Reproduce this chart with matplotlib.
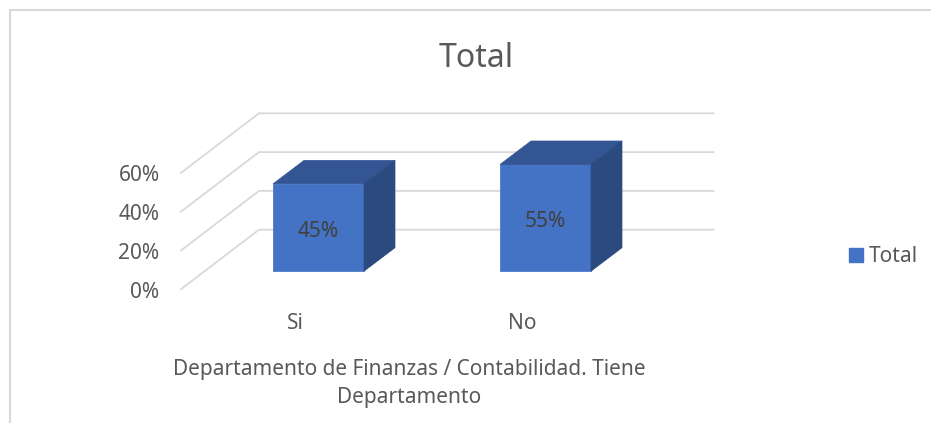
import matplotlib
matplotlib.use('Agg')
import matplotlib.pyplot as plt
from matplotlib.patches import Polygon, Rectangle

plt.rcParams['font.family'] = ['Noto Sans', 'DejaVu Sans']

categories = ['Si', 'No']
values = [45, 55]
value_labels = ['45%', '55%']
y_ticks = [0, 20, 40, 60]
y_tick_labels = ['0%', '20%', '40%', '60%']
title = 'Total'
series_name = 'Total'
x_title = ['Departamento de Finanzas / Contabilidad. Tiene', 'Departamento']

W, H = 931, 423
PX_X = 227.0    # pixels per category
PX_Y = 1.94     # pixels per percent
X0 = 318.5      # pixel of first bar centre
Y0 = 271.2      # pixel of 0% on the bar front

TEXT = '#595959'
GRID = '#D9D9D9'
FRONT = '#4472C4'
TOP = '#335593'
SIDE = '#2A4A80'
FS = 15


def dx(px):
    return px / PX_X


def dy(px):
    return px / PX_Y


fig = plt.figure(figsize=(W / 100, H / 100), dpi=100)
ax = fig.add_axes([0, 0, 1, 1])
# data coordinates: x = category index, y = percent on the bar front plane
ax.set_xlim(-X0 / PX_X, (W - X0) / PX_X)
ax.set_ylim(-(H - Y0) / PX_Y, Y0 / PX_Y)
ax.axis('off')

# chart frame, open at right and bottom
ax.plot([dx(9.5 - X0), dx(9.5 - X0), dx(W - X0)],
        [dy(Y0 - H), dy(Y0 - 10), dy(Y0 - 10)], color=GRID, lw=1.5, zorder=1)

# floor lines and back wall gridlines
wall_left = dx(181 - X0)
wall_back = dx(259 - X0)
wall_right = dx(713.5 - X0)
wall_front_off = dy(-18)
wall_back_off = dy(41.5)
for v in y_ticks:
    ax.plot([wall_left, wall_back, wall_right],
            [v + wall_front_off, v + wall_back_off, v + wall_back_off],
            color=GRID, lw=1.3, zorder=1)
    ax.text(dx(159.5 - X0), v + wall_front_off + dy(-3), y_tick_labels[v // 20],
            ha='right', va='center', color=TEXT, fontsize=FS)

# 3d bars
bar_w = dx(91)
depth_x = dx(31)
depth_y = dy(23.5)
bars = ax.bar(range(len(values)), values, width=bar_w, color=FRONT,
              edgecolor='#4F7CCB', lw=0.6, zorder=3, label=series_name)
for i, v in enumerate(values):
    l = i - bar_w / 2
    r = i + bar_w / 2
    ax.add_patch(Polygon([(l, v), (r, v), (r + depth_x, v + depth_y), (l + depth_x, v + depth_y)],
                         facecolor=TOP, edgecolor=TOP, lw=0.5, zorder=3))
    ax.add_patch(Polygon([(r, 0), (r + depth_x, depth_y), (r + depth_x, v + depth_y), (r, v)],
                         facecolor=SIDE, edgecolor=SIDE, lw=0.5, zorder=3))
    ax.text(i, v / 2 + dy(-4), value_labels[i], ha='center', va='center', color='#404040',
            fontsize=FS, zorder=4)
    ax.text(i + dx(-23), dy(-52), categories[i], ha='center', va='center',
            color=TEXT, fontsize=FS)

ax.text(dx(476.5 - X0), dy(Y0 - 58), title, ha='center', va='center', color=TEXT, fontsize=23)
ax.text(dx(409 - X0), dy(Y0 - 369), x_title[0], ha='center', va='center', color=TEXT, fontsize=FS)
ax.text(dx(409 - X0), dy(Y0 - 398), x_title[1], ha='center', va='center', color=TEXT, fontsize=FS)

leg = ax.legend(handles=[Rectangle((0, 0), 1, 1, color=FRONT)], labels=[series_name],
                loc='center left', bbox_to_anchor=(849 / W, 1 - 257 / H), frameon=False,
                fontsize=FS, labelcolor=TEXT, handlelength=0.67, handleheight=0.67,
                handletextpad=0.3, borderpad=0, borderaxespad=0)

fig.savefig('out.png', dpi=100, facecolor='white')
